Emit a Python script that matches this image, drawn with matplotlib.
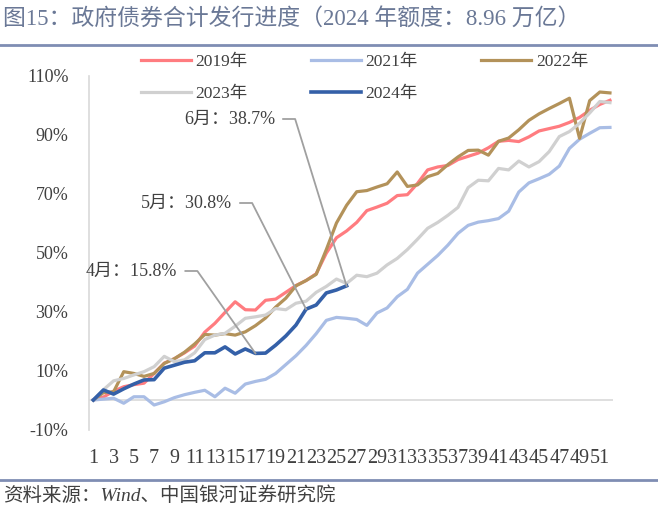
import numpy as np
import matplotlib.pyplot as plt

plt.rcParams['font.family'] = ['Liberation Serif', 'Noto Sans CJK SC', 'DejaVu Sans']

weeks = list(range(1, 53))

y2019 = [0, 1, 3, 4.5, 5.2, 5.7, 9, 12.5, 14, 16, 18.3, 23, 26, 29.7, 33.3, 30.6, 30.5, 33.8,
         34.2, 36.5, 38.8, 40.5, 42.8, 49.8, 55, 57.3, 60.2, 64.2, 65.4, 66.7, 69.3, 69.6, 73.4,
         78, 79, 79.5, 81.5, 82.6, 83.7, 85.5, 87.7, 88, 87.6, 89.2, 91.2, 92, 92.8, 94.1, 95.8,
         98.2, 100.2, 101.6]
y2021 = [0, 0.3, 0.6, -1.1, 1.1, 1.1, -1.7, -0.6, 0.8, 1.8, 2.6, 3.3, 1.1, 4, 2.3, 5.4, 6.3, 7,
         9, 12, 15, 18.5, 22.5, 27, 28, 27.7, 27.3, 25.3, 29.5, 31.2, 35, 37.5, 43, 46, 49, 52.5,
         56.5, 59.2, 60.3, 60.8, 61.5, 64, 70.5, 73.6, 75, 76.5, 79.3, 85.3, 88.4, 90.4, 92.3, 92.4]
y2022 = [0, 2.5, 2.8, 9.6, 9, 8, 9, 12.4, 14, 16.2, 19, 22.2, 22, 22.5, 22, 23.1, 25.2, 27.8,
         31.5, 34.5, 38.7, 40.5, 42.6, 51, 60, 66, 70.6, 71, 72.2, 73.3, 77.3, 72.4, 72.9, 75.7,
         76.8, 79.8, 82.4, 84.6, 84.7, 83, 87.7, 88.8, 91.6, 94.8, 97, 98.8, 100.5, 102.3, 88.7,
         101.5, 104.4, 104.1]
y2023 = [0, 3.5, 6.5, 7.3, 8.5, 9.6, 11.3, 14.8, 13, 13.6, 16, 20.5, 22, 22.6, 25, 27.7, 28.2,
         28.8, 31, 30.6, 32.8, 33.5, 36.5, 38.5, 41, 39.5, 42.3, 41.8, 43, 45.8, 48, 51, 54.5,
         58.2, 60.2, 62.6, 65.3, 72, 74.5, 74.3, 78.5, 78, 81, 79, 80.8, 84.2, 89.3, 91, 93.8,
         97.3, 101.2, 100.8]
y2024 = [0, 3.4, 2.0, 3.8, 5.4, 6.8, 6.9, 10.8, 11.8, 12.8, 13.3, 16.0, 16.0, 18.0, 15.6, 17.3,
         15.8, 15.9, 18.6, 21.7, 25.4, 30.8, 32.2, 36.3, 37.3, 38.7]

notes = ['4月：15.8%', '5月：30.8%', '6月：38.7%']
note_weeks = [17, 22, 26]

fig = plt.figure(figsize=(6.58, 5.09), dpi=100)
ax = fig.add_axes([89.3 / 658, 1 - 429.5 / 509, (613 - 89.3) / 658, 354 / 509])

l19, = ax.plot(weeks, y2019, color='#FF7C80', lw=2.3, label='2019年')
l21, = ax.plot(weeks, y2021, color='#A9BDE5', lw=2.3, label='2021年')
l22, = ax.plot(weeks, y2022, color='#B3925A', lw=2.3, label='2022年')
l23, = ax.plot(weeks, y2023, color='#D0D0D0', lw=2.3, label='2023年')
l24, = ax.plot(weeks[:len(y2024)], y2024, color='#3460A8', lw=2.6, label='2024年')

ax.axhline(0, color='#D9D9D9', lw=1.2, zorder=0)
ax.set_xlim(0.6, 52.3)
ax.set_ylim(-10, 110)
ax.set_yticks(range(-10, 111, 20))
ax.set_yticklabels([f'{v}%' for v in range(-10, 111, 20)])
ax.set_xticks(weeks[::2])
ax.set_xticklabels([str(w) for w in weeks[::2]])
ax.tick_params(axis='both', length=0, labelsize=13, colors='#404040')
ax.tick_params(axis='y', pad=15)
ax.tick_params(axis='x', pad=14, labelsize=14.5)
for s in ['top', 'right', 'bottom']:
    ax.spines[s].set_visible(False)
ax.spines['left'].set_color('#D9D9D9')
ax.spines['left'].set_linewidth(1.2)

# annotations with elbow leader lines
text_pos = [(86, 271), (141, 203), (184, 119)]
for txt, w, (tx, ty) in zip(notes, note_weeks, text_pos):
    v = y2024[w - 1]
    fx = tx / 658
    fy = 1 - ty / 509
    t = fig.text(fx, fy, txt, fontsize=13, color='#404040', va='center', ha='left')
    fig.canvas.draw()
    bb = t.get_window_extent()
    x0 = bb.x1 + 8
    px, py = ax.transData.transform((w, v))
    inv = fig.transFigure.inverted()
    pts = inv.transform([(x0, bb.y0 + bb.height / 2), (x0 + 12, bb.y0 + bb.height / 2), (px, py)])
    fig.add_artist(plt.Line2D(pts[:, 0], pts[:, 1], color='#A0A0A0', lw=1.3))

handles = [l19, l23, l21, l24, l22]
fig.legend(handles=handles, labels=[h.get_label() for h in handles], ncol=3,
           loc='upper left', bbox_to_anchor=(125 / 658, 1 - 38 / 509), frameon=False,
           fontsize=12.5, handlelength=2.9, handletextpad=0.25, columnspacing=3.65,
           labelspacing=0.95, labelcolor='#404040')

fig.text(0.004, 1 - 19 / 509, '图15：政府债券合计发行进度（2024 年额度：8.96 万亿）',
         fontsize=16.5, color='#6A7896', va='center', ha='left')
fig.add_artist(plt.Line2D([0, 1], [1 - 45 / 509, 1 - 45 / 509], color='#7F8DB3', lw=2))
fig.add_artist(plt.Line2D([0, 1], [1 - 480 / 509, 1 - 480 / 509], color='#7F8DB3', lw=2))
fig.text(0.004, 1 - 496 / 509, '资料来源：Wind、中国银河证券研究院',
         fontsize=14, color='#404040', va='center', ha='left', style='italic')

plt.savefig('out.png', dpi=100)
